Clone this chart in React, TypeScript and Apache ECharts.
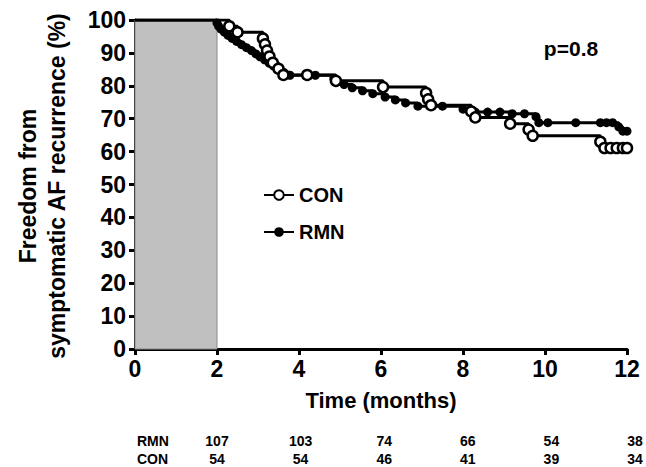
import React, { useEffect, useRef } from "react";
import * as echarts from "echarts";

// Kaplan-Meier curves (months, % event-free)
const conTimes = [0, 2.3, 2.5, 3.12, 3.17, 3.22, 3.28, 3.36, 3.5, 3.62, 4.2, 4.9, 6.05, 7.1, 7.15, 7.22, 8.2, 8.3, 9.15, 9.6, 9.7, 11.35, 11.45, 11.6, 11.75, 11.9, 12.0];
const conSurv = [100, 98.1, 96.3, 94.4, 92.6, 90.7, 88.9, 87.0, 85.2, 83.3, 83.3, 81.5, 79.6, 77.8, 75.9, 74.1, 72.2, 70.4, 68.5, 66.7, 64.8, 63.0, 61.1, 61.1, 61.1, 61.1, 61.1];

const rmnTimes = [0, 2.0, 2.04, 2.1, 2.18, 2.27, 2.37, 2.48, 2.6, 2.72, 2.84, 2.95, 3.05, 3.16, 3.27, 3.38, 3.5, 3.63, 3.78, 4.4, 4.85, 4.95, 5.1, 5.3, 5.55, 5.8, 6.1, 6.35, 6.6, 6.9, 7.5, 8.0, 8.3, 8.6, 8.9, 9.2, 9.5, 9.78, 9.85, 10.07, 10.75, 11.35, 11.5, 11.65, 11.8, 11.9, 12.0];
const rmnSurv = [100, 99.1, 98.1, 97.2, 96.3, 95.3, 94.4, 93.5, 92.5, 91.6, 90.7, 89.7, 88.8, 87.9, 86.9, 86.0, 85.0, 84.1, 83.2, 83.2, 82.2, 81.3, 80.4, 79.4, 78.5, 77.6, 76.6, 75.7, 74.8, 73.8, 73.8, 72.9, 72.0, 72.0, 72.0, 71.5, 71.5, 70.6, 68.8, 68.8, 68.8, 68.8, 68.8, 68.8, 67.5, 66.2, 66.2];

const blankingStart = 0;
const blankingEnd = 2;

const atRiskLabels = ["RMN", "CON"];
const rmnAtRisk = [107, 103, 74, 66, 54, 38];
const conAtRisk = [54, 54, 46, 41, 39, 34];

const pValueText = "p=0.8";
const xTitle = "Time (months)";
const yTitle = "Freedom from\nsymptomatic AF recurrence (%)";

const FONT = "Liberation Sans, Arial, sans-serif";

function toData(times: number[], vals: number[]) {
  return times.map((t, i) =>
    i === 0 ? { value: [t, vals[i]], symbol: "none" } : { value: [t, vals[i]] }
  );
}

export default function App() {
  const ref = useRef<HTMLDivElement>(null);

  useEffect(() => {
    if (!ref.current) return;
    const chart = echarts.init(ref.current, undefined, { renderer: "svg" });

    const tableTexts: any[] = [];
    const rows = [rmnAtRisk, conAtRisk];
    rows.forEach((row, r) => {
      const y = 441 + r * 18;
      tableTexts.push({
        type: "text",
        x: 137,
        y,
        style: {
          text: atRiskLabels[r],
          font: `bold 14px ${FONT}`,
          fill: "#000",
          align: "left",
          verticalAlign: "middle",
        },
      });
      row.forEach((v, i) => {
        tableTexts.push({
          type: "text",
          x: 217 + i * 83.6,
          y,
          style: {
            text: String(v),
            font: `bold 14px ${FONT}`,
            fill: "#000",
            align: "center",
            verticalAlign: "middle",
          },
        });
      });
    });

    chart.setOption({
      animation: false,
      backgroundColor: "#fff",
      grid: { left: 135, right: 19, top: 20, bottom: 118, containLabel: false },
      legend: {
        orient: "vertical",
        left: 258,
        top: 180,
        itemWidth: 30,
        itemHeight: 12,
        itemGap: 17,
        data: ["CON", "RMN"],
        textStyle: { fontSize: 20, fontWeight: "bold", color: "#000", fontFamily: FONT },
      },
      xAxis: {
        type: "value",
        min: 0,
        max: 12,
        interval: 2,
        axisLine: { show: true, lineStyle: { color: "#000", width: 3 } },
        axisTick: { show: true, length: 6, lineStyle: { color: "#000", width: 3 } },
        splitLine: { show: false },
        axisLabel: { fontSize: 23, fontWeight: "bold", color: "#000", fontFamily: FONT, margin: 8 },
      },
      yAxis: {
        type: "value",
        min: 0,
        max: 100,
        interval: 10,
        axisLine: { show: true, lineStyle: { color: "#000", width: 3 } },
        axisTick: { show: true, length: 6, lineStyle: { color: "#000", width: 3 } },
        splitLine: { show: false },
        axisLabel: { fontSize: 23, fontWeight: "bold", color: "#000", fontFamily: FONT, margin: 9 },
      },
      series: [
        {
          name: "blank",
          type: "line",
          data: [],
          silent: true,
          z: 1,
          markArea: {
            silent: true,
            itemStyle: { color: "#c0c0c0", borderColor: "#8a8a8a", borderWidth: 1 },
            data: [[{ xAxis: blankingStart, yAxis: 0 }, { xAxis: blankingEnd, yAxis: 100 }]],
          },
        },
        {
          name: "RMN",
          type: "line",
          step: "end",
          data: toData(rmnTimes, rmnSurv),
          symbol: "circle",
          symbolSize: 9,
          itemStyle: { color: "#000" },
          lineStyle: { color: "#000", width: 3 },
          z: 3,
        },
        {
          name: "CON",
          type: "line",
          step: "end",
          data: toData(conTimes, conSurv),
          symbol: "circle",
          symbolSize: 10,
          itemStyle: { color: "#fff", borderColor: "#000", borderWidth: 2.5 },
          lineStyle: { color: "#000", width: 3 },
          z: 4,
        },
      ],
      graphic: [
        {
          type: "text",
          x: 42,
          y: 186,
          rotation: Math.PI / 2,
          style: {
            text: yTitle,
            font: `bold 23px ${FONT}`,
            fill: "#000",
            align: "center",
            verticalAlign: "middle",
            lineHeight: 29,
          },
        },
        {
          type: "text",
          x: 381,
          y: 400,
          style: {
            text: xTitle,
            font: `bold 22px ${FONT}`,
            fill: "#000",
            align: "center",
            verticalAlign: "middle",
          },
        },
        {
          type: "text",
          x: 571,
          y: 48,
          style: {
            text: pValueText,
            font: `bold 21px ${FONT}`,
            fill: "#000",
            align: "center",
            verticalAlign: "middle",
          },
        },
        ...tableTexts,
      ],
    });

    return () => chart.dispose();
  }, []);

  return (
    <div
      ref={ref}
      style={{ position: "absolute", left: 0, top: 0, width: 646, height: 467, background: "#fff" }}
    />
  );
}
